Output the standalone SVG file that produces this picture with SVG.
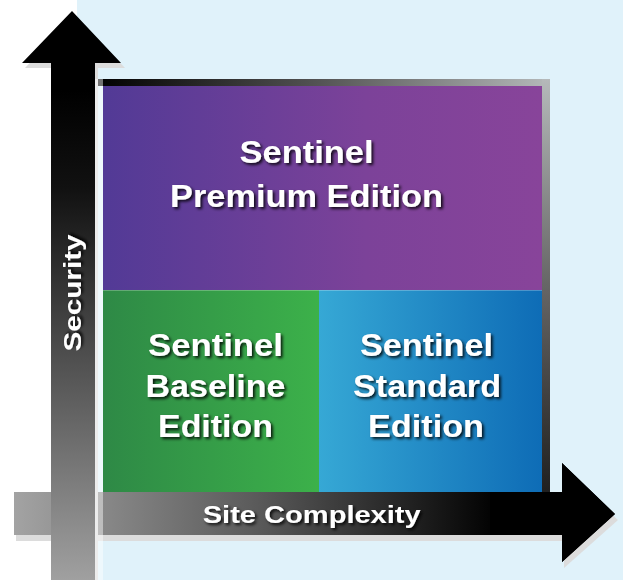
<svg xmlns="http://www.w3.org/2000/svg" width="623" height="580" viewBox="0 0 623 580">
<defs>
<linearGradient id="gPurple" x1="0" y1="0" x2="1" y2="0"><stop offset="0" stop-color="#523a96"/><stop offset="0.6" stop-color="#7c4299"/><stop offset="1" stop-color="#88449a"/></linearGradient>
<linearGradient id="gGreen" x1="0" y1="0" x2="1" y2="0"><stop offset="0" stop-color="#2e8946"/><stop offset="1" stop-color="#3cb14a"/></linearGradient>
<linearGradient id="gBlue" x1="0" y1="0" x2="1" y2="0"><stop offset="0" stop-color="#36a8d5"/><stop offset="1" stop-color="#0e6cb6"/></linearGradient>
<linearGradient id="gTop" x1="95" y1="0" x2="550" y2="0" gradientUnits="userSpaceOnUse"><stop offset="0" stop-color="#000"/><stop offset="0.5" stop-color="#555"/><stop offset="1" stop-color="#b5b9ba"/></linearGradient>
<linearGradient id="gRight" x1="0" y1="79" x2="0" y2="535" gradientUnits="userSpaceOnUse"><stop offset="0" stop-color="#b5b9ba"/><stop offset="0.45" stop-color="#666"/><stop offset="1" stop-color="#111"/></linearGradient>
<linearGradient id="gBar" x1="14" y1="0" x2="500" y2="0" gradientUnits="userSpaceOnUse"><stop offset="0" stop-color="#a3a3a3"/><stop offset="0.5" stop-color="#5a5a5a"/><stop offset="1" stop-color="#000"/></linearGradient>
<linearGradient id="gShaft" x1="0" y1="90" x2="0" y2="580" gradientUnits="userSpaceOnUse"><stop offset="0" stop-color="#000"/><stop offset="0.2" stop-color="#111"/><stop offset="1" stop-color="#a0a0a0"/></linearGradient>
<filter id="ts" x="-20%" y="-40%" width="140%" height="180%"><feDropShadow dx="2" dy="2" stdDeviation="1.6" flood-color="#000" flood-opacity="0.85"/></filter>
</defs>
<style>
.lbl{font-family:"Liberation Sans",Arial,sans-serif;font-weight:bold;fill:#fff;text-anchor:middle;filter:url(#ts)}
.box{font-size:32px}
.ax{font-size:24px}
.shadow{fill:#dcdcdc}
</style>
<rect x="0" y="0" width="623" height="580" fill="#fff"/>
<rect x="77" y="0" width="546" height="580" fill="#e0f2fa"/>
<g id="frame">
<rect x="95" y="79" width="455" height="7" fill="url(#gTop)"/>
<rect x="542" y="79" width="8" height="456" fill="url(#gRight)"/>
</g>
<g id="premium">
<rect x="103" y="86" width="439" height="204" fill="url(#gPurple)"/>
<text class="lbl box" x="306.5" y="163" textLength="134" lengthAdjust="spacingAndGlyphs">Sentinel</text>
<text class="lbl box" x="306.5" y="206.5" textLength="273" lengthAdjust="spacingAndGlyphs">Premium Edition</text>
</g>
<g id="baseline">
<rect x="103" y="290" width="216" height="202" fill="url(#gGreen)"/>
<text class="lbl box" x="215.5" y="356" textLength="135" lengthAdjust="spacingAndGlyphs">Sentinel</text>
<text class="lbl box" x="215.5" y="396.5" textLength="140" lengthAdjust="spacingAndGlyphs">Baseline</text>
<text class="lbl box" x="215.5" y="436.5" textLength="115" lengthAdjust="spacingAndGlyphs">Edition</text>
</g>
<g id="standard">
<rect x="319" y="290" width="223" height="202" fill="url(#gBlue)"/>
<text class="lbl box" x="426.5" y="356" textLength="133" lengthAdjust="spacingAndGlyphs">Sentinel</text>
<text class="lbl box" x="427" y="396.5" textLength="148" lengthAdjust="spacingAndGlyphs">Standard</text>
<text class="lbl box" x="426" y="436.5" textLength="116" lengthAdjust="spacingAndGlyphs">Edition</text>
</g>
<line x1="103" y1="290.5" x2="542" y2="290.5" stroke="#fff" stroke-opacity="0.25"/>
<g id="connectors">
<g id="x-axis">
<path class="shadow" d="M16 498 H564 V469 L618 520 L564 568 V541 H16 Z"/>
<path d="M14 492 H562 V463 L615 514 L562 562 V535 H14 Z" fill="url(#gBar)"/>
<path d="M490 492 H562 V463 L615 514 L562 562 V535 H490 Z" fill="#000"/>
<text class="lbl ax" x="311.7" y="522.5" textLength="218" lengthAdjust="spacingAndGlyphs">Site Complexity</text>
</g>
<g id="y-axis">
<path class="shadow" d="M54 580 V68 H25 L75 15 L125 68 H98 V580 Z"/>
<path d="M51 580 V63 H22 L72 11 L121 63 H95 V580 Z" fill="url(#gShaft)"/>
<text class="lbl ax" transform="translate(81 293) rotate(-90)" x="0" y="0" textLength="117" lengthAdjust="spacingAndGlyphs">Security</text>
</g>
</g>
<rect x="95" y="79" width="8" height="501" fill="#fff" fill-opacity="0.45"/>
</svg>
